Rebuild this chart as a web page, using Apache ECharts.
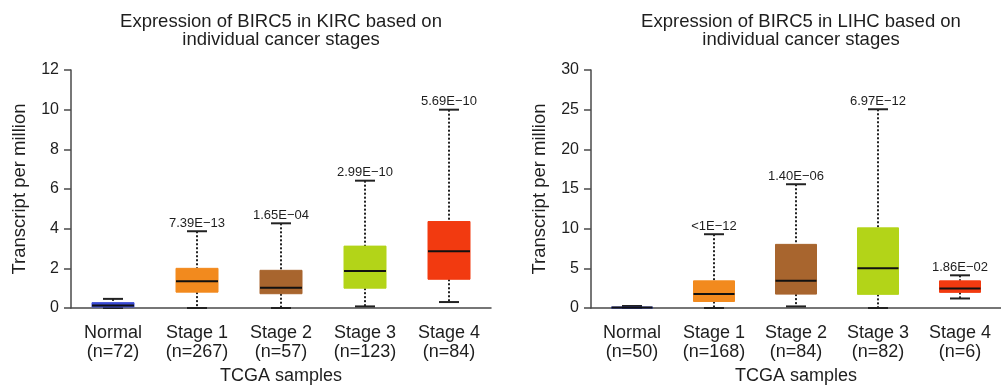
<!DOCTYPE html>
<html>
<head>
<meta charset="utf-8">
<script src="https://cdn.jsdelivr.net/npm/echarts@6/dist/echarts.min.js"></script>
<style>
html,body{margin:0;padding:0;background:#fff;}
#chart{width:1001px;height:390px;}
</style>
</head>
<body>
<div id="chart"></div>
<script>
// ---- data ----
const stageNames = ['Normal', 'Stage 1', 'Stage 2', 'Stage 3', 'Stage 4'];
const stageColors = ['#3b4bd6', '#f28a1e', '#a8652e', '#b3d418', '#f23a10'];

const kircN = [72, 267, 57, 123, 84];
const kircMin = [0, 0, 0, 0.08, 0.3];
const kircQ1 = [0.05, 0.8, 0.72, 1.0, 1.45];
const kircMed = [0.13, 1.35, 1.02, 1.86, 2.86];
const kircQ3 = [0.27, 2.0, 1.9, 3.12, 4.36];
const kircMax = [0.46, 3.87, 4.27, 6.42, 10.0];
const kircP = ['', '7.39E\u221213', '1.65E\u221204', '2.99E\u221210', '5.69E\u221210'];

const lihcN = [50, 168, 84, 82, 6];
const lihcMin = [0, 0, 0.2, 0, 1.2];
const lihcQ1 = [0.02, 0.82, 1.75, 1.72, 1.97];
const lihcMed = [0.06, 1.75, 3.42, 5.0, 2.45];
const lihcQ3 = [0.12, 3.42, 8.02, 10.1, 3.42];
const lihcMax = [0.25, 9.3, 15.6, 25.05, 4.12];
const lihcP = ['', '<1E\u221212', '1.40E\u221206', '6.97E\u221212', '1.86E\u221202'];

const kircTitle = 'Expression of BIRC5 in KIRC based on\nindividual cancer stages';
const lihcTitle = 'Expression of BIRC5 in LIHC based on\nindividual cancer stages';

// ---- build ----
function cats(ns) { return stageNames.map((s, i) => s + '\n(n=' + ns[i] + ')'); }
function rows(mn, q1, md, q3, mx) { return stageNames.map((s, i) => [i, mn[i], q1[i], md[i], q3[i], mx[i]]); }

const FONT = 'Liberation Sans, Arial, Helvetica, sans-serif';
const TXT = '#1e1e1e';
const AX = '#4a4a4a';

function makeRender(pLabels) {
  return function (params, api) {
    const i = api.value(0);
    const mn = api.value(1), q1 = api.value(2), md = api.value(3), q3 = api.value(4), mx = api.value(5);
    const pMn = api.coord([i, mn]), pQ1 = api.coord([i, q1]), pMd = api.coord([i, md]);
    const pQ3 = api.coord([i, q3]), pMx = api.coord([i, mx]);
    const x = pMn[0];
    const bw = api.size([1, 0])[0] * 0.5;
    const cw = 20;
    const col = stageColors[i];
    const dash = { stroke: '#222', lineWidth: 2, lineDash: [2, 2] };
    const solid = { stroke: '#222', lineWidth: 2 };
    const children = [
      { type: 'line', shape: { x1: x, y1: pMx[1], x2: x, y2: pQ3[1] }, style: dash },
      { type: 'line', shape: { x1: x, y1: pQ1[1], x2: x, y2: pMn[1] }, style: dash },
      { type: 'line', shape: { x1: x - cw / 2, y1: pMx[1], x2: x + cw / 2, y2: pMx[1] }, style: solid },
      { type: 'line', shape: { x1: x - cw / 2, y1: pMn[1], x2: x + cw / 2, y2: pMn[1] }, style: solid },
      { type: 'rect', shape: { x: x - bw / 2, y: pQ3[1], width: bw, height: Math.max(pQ1[1] - pQ3[1], 1) },
        style: { fill: col, stroke: col, lineWidth: 1 } },
      { type: 'line', shape: { x1: x - bw / 2, y1: pMd[1], x2: x + bw / 2, y2: pMd[1] }, style: { stroke: '#111', lineWidth: 2 } }
    ];
    if (pLabels[i]) {
      children.push({ type: 'text', style: { text: pLabels[i], x: x, y: pMx[1] - 8, align: 'center', verticalAlign: 'middle',
        fill: TXT, font: '13px ' + FONT } });
    }
    return { type: 'group', children: children };
  };
}

function xAxis(gi, ns) {
  return {
    type: 'category', gridIndex: gi, data: cats(ns),
    name: 'TCGA samples', nameLocation: 'middle', nameGap: 59,
    nameTextStyle: { fontSize: 18, color: TXT, fontFamily: FONT },
    axisLine: { lineStyle: { color: AX, width: 1.5 } },
    axisTick: { alignWithLabel: true, length: 6, lineStyle: { color: AX, width: 1.5 } },
    axisLabel: { fontSize: 18, lineHeight: 19, color: TXT, fontFamily: FONT, margin: 16, interval: 0 }
  };
}
function yAxis(gi, max, interval) {
  return {
    type: 'value', gridIndex: gi, min: 0, max: max, interval: interval,
    name: 'Transcript per million', nameLocation: 'middle', nameGap: 42, nameRotate: 90,
    nameTextStyle: { fontSize: 18.5, color: TXT, fontFamily: FONT },
    axisLine: { show: true, lineStyle: { color: AX, width: 1.5 } },
    axisTick: { show: true, length: 7, lineStyle: { color: AX, width: 1.5 } },
    axisLabel: { fontSize: 16, color: TXT, fontFamily: FONT, margin: 12 },
    splitLine: { show: false }
  };
}

const chart = echarts.init(document.getElementById('chart'), null, { renderer: 'canvas' });
chart.setOption({
  animation: false,
  backgroundColor: '#fff',
  graphic: [
    { type: 'text', style: { text: kircTitle, x: 281, y: 12.5, align: 'center', verticalAlign: 'top', fill: TXT,
      font: '18.5px ' + FONT, lineHeight: 18.5 } },
    { type: 'text', style: { text: lihcTitle, x: 801, y: 12.5, align: 'center', verticalAlign: 'top', fill: TXT,
      font: '18.5px ' + FONT, lineHeight: 18.5 } }
  ],
  grid: [
    { left: 71, top: 70, width: 420, height: 240 },
    { left: 591, top: 70, width: 420, height: 240 }
  ],
  xAxis: [xAxis(0, kircN), xAxis(1, lihcN)],
  yAxis: [yAxis(0, 12, 2), yAxis(1, 30, 5)],
  series: [
    { type: 'custom', xAxisIndex: 0, yAxisIndex: 0, renderItem: makeRender(kircP),
      encode: { x: 0, y: [1, 2, 3, 4, 5] }, data: rows(kircMin, kircQ1, kircMed, kircQ3, kircMax), clip: false },
    { type: 'custom', xAxisIndex: 1, yAxisIndex: 1, renderItem: makeRender(lihcP),
      encode: { x: 0, y: [1, 2, 3, 4, 5] }, data: rows(lihcMin, lihcQ1, lihcMed, lihcQ3, lihcMax), clip: false }
  ]
});
</script>
</body>
</html>
